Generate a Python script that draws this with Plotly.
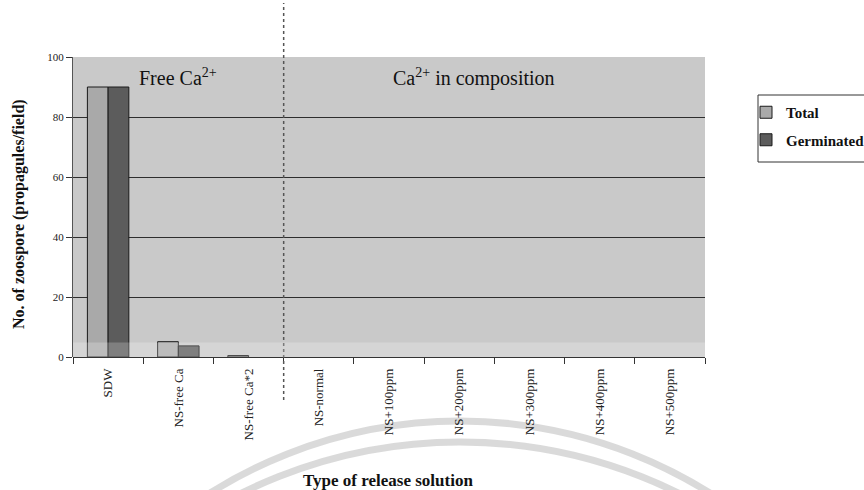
import plotly.graph_objects as go

# Release solutions on the x axis
categories = ["SDW", "NS-free Ca", "NS-free Ca*2", "NS-normal", "NS+100ppm",
              "NS+200ppm", "NS+300ppm", "NS+400ppm", "NS+500ppm"]
# Zoospore counts (propagules/field)
total = [90, 5.1, 0.5, 0, 0, 0, 0, 0, 0]
germinated = [90, 3.7, 0, 0, 0, 0, 0, 0, 0]
y_ticks = [0, 20, 40, 60, 80, 100]

SERIF = "Liberation Serif, Times New Roman, serif"

# Plot-area geometry in pixels (used to place paper-referenced decorations)
W, H = 864, 490
L, R, T, B = 73, 159, 57, 133
PW, PH = W - L - R, H - T - B


def px_x(px):
    return (px - L) / PW


def px_y(py):
    return (H - B - py) / PH


def outline(values):
    # no outline for empty bars so they do not leave a line on the baseline
    return [1 if v > 0 else 0 for v in values]


fig = go.Figure()
fig.add_trace(go.Bar(
    x=categories, y=total, name="Total", legendgroup="a",
    marker=dict(color="#a9a9a9",
                line=dict(color="#1a1a1a", width=outline(total))),
))
fig.add_trace(go.Bar(
    x=categories, y=germinated, name="Germinated", legendgroup="b",
    marker=dict(color="#5c5c5c",
                line=dict(color="#1a1a1a", width=outline(germinated))),
))

shapes = [
    # dotted divider between free-Ca and Ca-in-composition solutions
    dict(type="line", xref="x", yref="paper", x0=2.5, x1=2.5,
         y0=px_y(400), y1=px_y(3),
         line=dict(color="#555555", width=1.5, dash="dot")),
    # lighter band along the base of the plot
    dict(type="rect", xref="paper", yref="y", x0=0, x1=1, y0=0, y1=4.8,
         fillcolor="rgba(255,255,255,0.22)", line=dict(width=0), layer="above"),
    # legend frame
    dict(type="rect", xref="paper", yref="paper",
         x0=px_x(758), x1=px_x(875), y0=px_y(162), y1=px_y(95),
         line=dict(color="#333333", width=1), fillcolor="white", layer="below"),
]

# faint circular emblem arcs near the bottom of the page
for cx, cy, rad in [(460, 890, 469), (460, 934, 492)]:
    shapes.append(dict(
        type="circle", xref="paper", yref="paper",
        x0=px_x(cx - rad), x1=px_x(cx + rad),
        y0=px_y(cy + rad), y1=px_y(cy - rad),
        line=dict(color="rgba(205,205,205,0.75)", width=7),
        fillcolor="rgba(0,0,0,0)", layer="below",
    ))

annotations = [
    dict(text="Free Ca<sup>2+</sup>", xref="paper", yref="paper",
         x=px_x(178), y=px_y(77), xanchor="center", yanchor="middle",
         showarrow=False, font=dict(family=SERIF, size=20, color="#111111")),
    dict(text="Ca<sup>2+</sup> in composition", xref="paper", yref="paper",
         x=px_x(474), y=px_y(78), xanchor="center", yanchor="middle",
         showarrow=False, font=dict(family=SERIF, size=20, color="#111111")),
    dict(text="<b>Type of release solution</b>", xref="paper", yref="paper",
         x=px_x(388), y=px_y(480), xanchor="center", yanchor="middle",
         showarrow=False, font=dict(family=SERIF, size=17, color="#111111")),
    dict(text="<b>No. of zoospore (propagules/field)</b>", xref="paper",
         yref="paper", x=px_x(19), y=px_y(214), xanchor="center",
         yanchor="middle", textangle=-90, showarrow=False,
         font=dict(family=SERIF, size=16, color="#111111")),
]

fig.update_layout(
    width=W, height=H,
    margin=dict(l=L, r=R, t=T, b=B, autoexpand=False),
    paper_bgcolor="white",
    plot_bgcolor="#c9c9c9",
    barmode="group",
    bargap=0.41,
    bargroupgap=0,
    showlegend=True,
    legend=dict(
        x=px_x(746), y=px_y(96), xanchor="left", yanchor="top",
        borderwidth=0, bgcolor="rgba(0,0,0,0)",
        font=dict(family=SERIF, size=15, color="#111111", weight="bold"),
        traceorder="grouped", tracegroupgap=5,
    ),
    shapes=shapes,
    annotations=annotations,
    font=dict(family=SERIF, color="#111111"),
)

fig.update_xaxes(
    type="category", tickangle=-90, tickson="boundaries",
    ticks="outside", ticklen=6, tickcolor="#333333",
    ticklabelstandoff=8,
    tickfont=dict(family=SERIF, size=13, color="#222222"),
    showgrid=False, showline=False, zeroline=False,
)
fig.update_yaxes(
    range=[0, 100], tickvals=y_ticks, ticks="outside", ticklen=6,
    tickcolor="#333333", tickfont=dict(family=SERIF, size=11, color="#222222"),
    showgrid=True, gridcolor="#2e2e2e", gridwidth=1,
    showline=True, linecolor="#555555", linewidth=1,
    zeroline=True, zerolinecolor="#333333", zerolinewidth=1,
)

fig.write_html("out.html")
